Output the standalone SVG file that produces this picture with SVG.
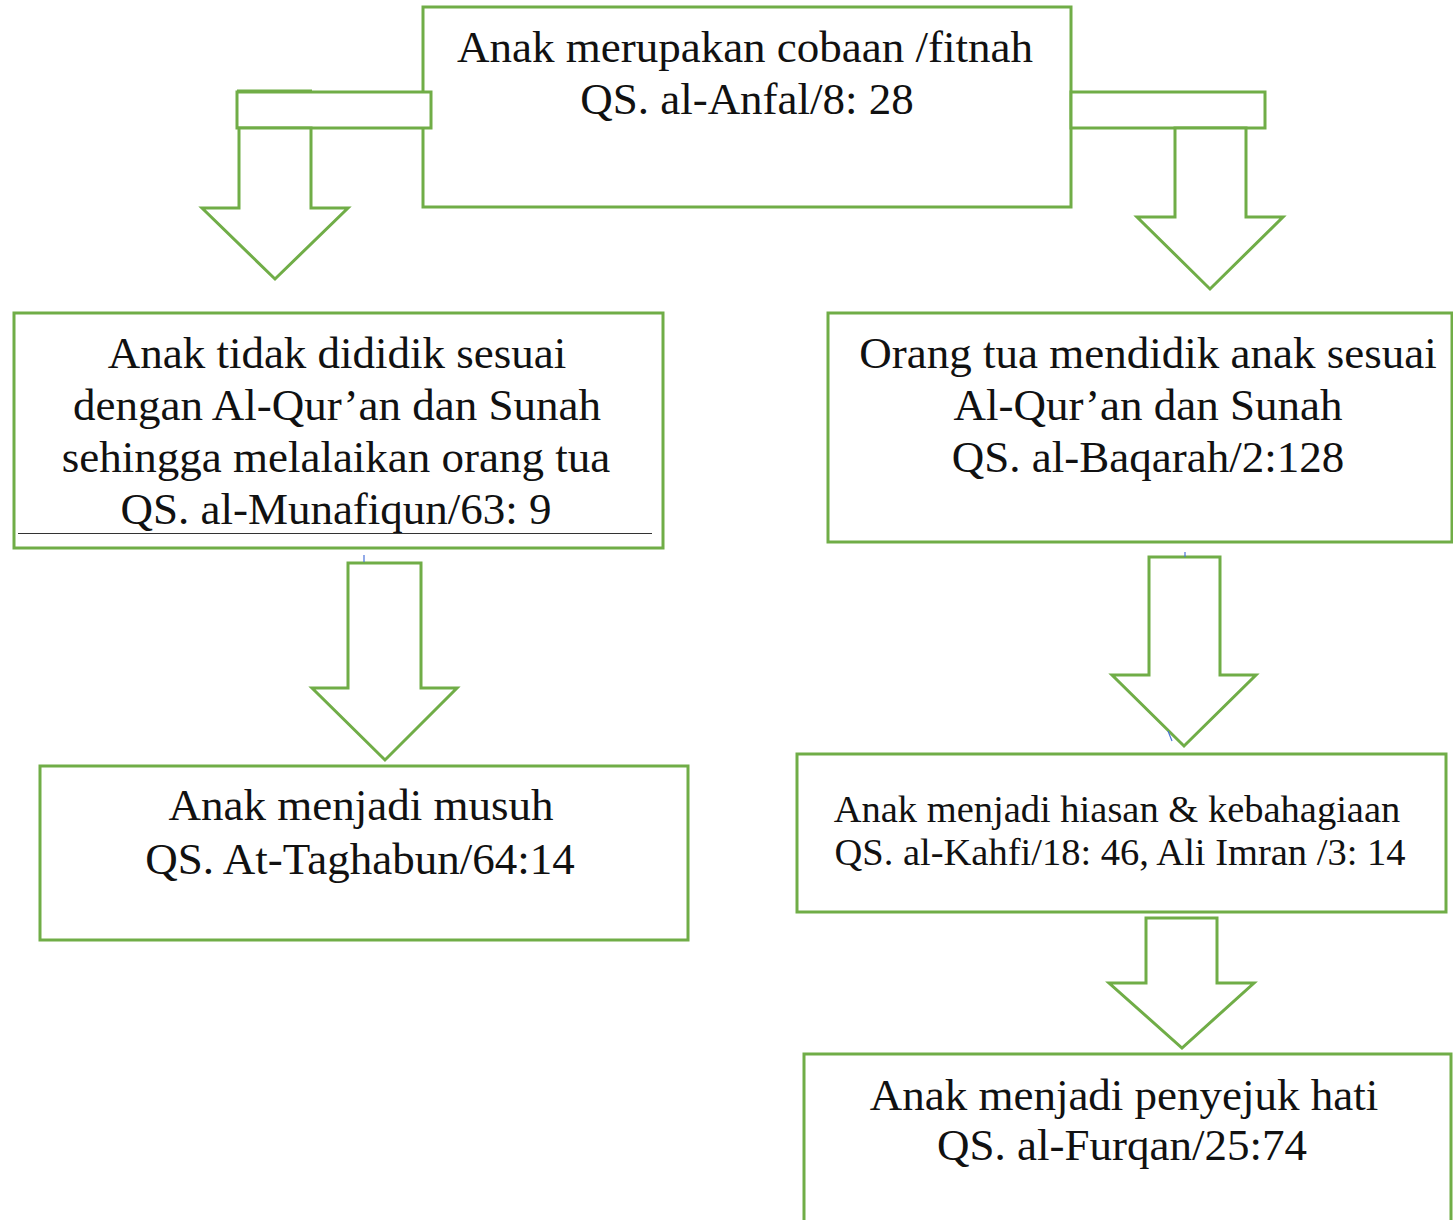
<svg xmlns="http://www.w3.org/2000/svg" width="1453" height="1220" viewBox="0 0 1453 1220">
<style>
.box{fill:#fff;stroke:#70ad47;stroke-width:3}
.arr{fill:#fff;stroke:#70ad47;stroke-width:3;stroke-linejoin:miter}
.t{font-family:"Liberation Serif","Times New Roman",serif;font-size:45px;fill:#111;text-anchor:middle}
.s{font-size:38.5px}
.blue{stroke:#4a72d9;stroke-width:1.2;fill:none}
</style>
<rect width="1453" height="1220" fill="#fff"/>
<g id="n-top">
<rect class="box" x="423" y="7" width="648" height="200"/>
<text class="t" x="745" y="62">Anak merupakan cobaan /fitnah</text>
<text class="t" x="747" y="114">QS. al-Anfal/8: 28</text>
</g>
<g id="n-left1">
<rect class="box" x="14" y="313" width="649" height="235"/>
<text class="t" x="337" y="368">Anak tidak dididik sesuai</text>
<text class="t" x="337" y="420">dengan Al-Qur’an dan Sunah</text>
<text class="t" x="336" y="472">sehingga melalaikan orang tua</text>
<text class="t" x="336" y="524">QS. al-Munafiqun/63: 9</text>
<line x1="18" y1="533.5" x2="652" y2="533.5" stroke="#333" stroke-width="1.2"/>
</g>
<g id="n-right1">
<rect class="box" x="828" y="313" width="624" height="229"/>
<text class="t" x="1148" y="368">Orang tua mendidik anak sesuai</text>
<text class="t" x="1148" y="420">Al-Qur’an dan Sunah</text>
<text class="t" x="1148" y="472">QS. al-Baqarah/2:128</text>
</g>
<g id="n-left2">
<rect class="box" x="40" y="766" width="648" height="174"/>
<text class="t" x="361" y="820">Anak menjadi musuh</text>
<text class="t" x="360" y="874">QS. At-Taghabun/64:14</text>
</g>
<g id="n-right2">
<rect class="box" x="797" y="754" width="649" height="158"/>
<text class="t s" x="1117" y="822">Anak menjadi hiasan &amp; kebahagiaan</text>
<text class="t s" x="1120" y="865">QS. al-Kahfi/18: 46, Ali Imran /3: 14</text>
</g>
<g id="n-right3">
<rect class="box" x="804" y="1054" width="647" height="200"/>
<text class="t" x="1124" y="1110">Anak menjadi penyejuk hati</text>
<text class="t" x="1122" y="1160">QS. al-Furqan/25:74</text>
</g>
<g id="connectors">
<rect class="arr" x="237" y="92" width="194" height="36"/>
<line x1="237" y1="90.5" x2="312" y2="90.5" stroke="#70ad47" stroke-width="2"/>
<polygon class="arr" points="239,128 311,128 311,208 348,208 275,279 202,208 239,208"/>
<rect class="arr" x="1071" y="92" width="194" height="36"/>
<polygon class="arr" points="1175,128 1246,128 1246,217 1283,217 1210,289 1137,217 1175,217"/>
<polygon class="arr" points="348,563 421,563 421,688 457,688 385,760 312,688 348,688"/>
<polygon class="arr" points="1149,557 1220,557 1220,675 1256,675 1184,746 1112,675 1149,675"/>
<polygon class="arr" points="1146,918 1217,918 1217,983 1254,983 1182,1048 1109,983 1146,983"/>
</g>
<g id="marks">
<line class="blue" x1="364" y1="555" x2="364" y2="562"/>
<line class="blue" x1="1185" y1="552" x2="1185" y2="557"/>
<line class="blue" x1="1168" y1="731" x2="1172" y2="741"/>
</g>
</svg>
